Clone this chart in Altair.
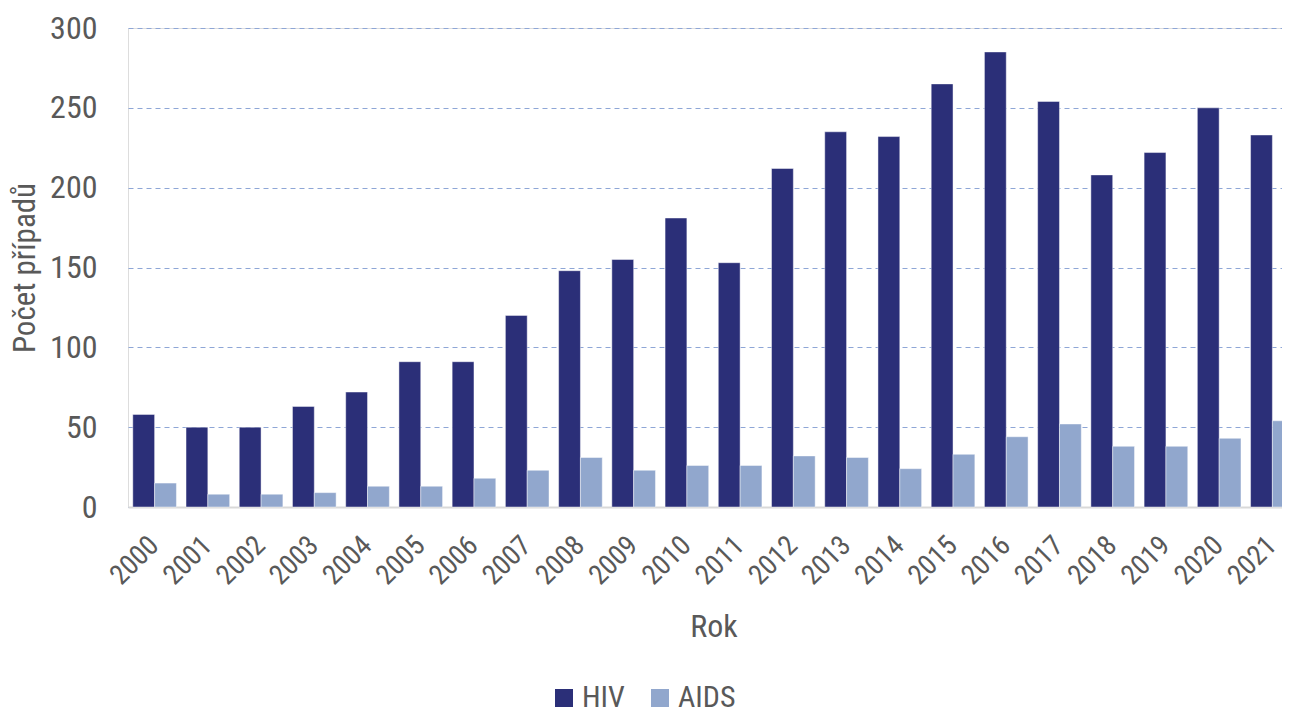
import altair as alt
import pandas as pd

years = [str(y) for y in range(2000, 2022)]
hiv = [58, 50, 50, 63, 72, 91, 91, 120, 148, 155, 181, 153, 212, 235, 232, 265, 285, 254, 208, 222, 250, 233]
aids = [15, 8, 8, 9, 13, 13, 18, 23, 31, 23, 26, 26, 32, 31, 24, 33, 44, 52, 38, 38, 43, 54]
series = ["HIV", "AIDS"]
colors = ["#2b2f78", "#91a7cd"]
y_ticks = [0, 50, 100, 150, 200, 250, 300]

rows = []
for i, yr in enumerate(years):
    rows.append({"Rok": yr, "series": "HIV", "value": hiv[i]})
    rows.append({"Rok": yr, "series": "AIDS", "value": aids[i]})
df = pd.DataFrame(rows)

FONT = "Liberation Sans Narrow, Roboto Condensed, Arial Narrow, sans-serif"
TXT = "#595959"

chart = alt.Chart(df).mark_bar(
    stroke="#ffffff", strokeOpacity=0.45, strokeWidth=1
).encode(
    x=alt.X("Rok:N", sort=years,
            scale=alt.Scale(paddingInner=0.18, paddingOuter=0.09),
            axis=alt.Axis(title="Rok", labelAngle=-45, labelAlign="right", labelBaseline="middle",
                          labelPadding=34, labelFontSize=28, labelColor=TXT, labelFont=FONT,
                          titleFontSize=32, titleColor=TXT, titleFont=FONT, titleFontWeight="normal",
                          titlePadding=22, ticks=False, domainColor="#d9d9d9", domainWidth=2,
                          grid=False)),
    xOffset=alt.XOffset("series:N", sort=series, scale=alt.Scale(paddingInner=0, paddingOuter=0)),
    y=alt.Y("value:Q", scale=alt.Scale(domain=[0, 300], nice=False),
            axis=alt.Axis(title="Počet případů", values=y_ticks, labelFontSize=32, labelColor=TXT,
                          labelFont=FONT, labelPadding=31, ticks=False, domain=False,
                          titleFontSize=31, titleColor=TXT, titleFont=FONT, titleFontWeight="normal",
                          titlePadding=8, gridColor="#8ea6d6", gridDash=[5, 4], gridWidth=1)),
    color=alt.Color("series:N", sort=series,
                    scale=alt.Scale(domain=series, range=colors),
                    legend=alt.Legend(title=None, orient="none", direction="horizontal",
                                      legendX=421, legendY=655, padding=0, symbolType="square",
                                      symbolSize=324, symbolStrokeWidth=0, labelFontSize=30,
                                      labelColor=TXT, labelFont=FONT, labelOffset=3,
                                      columnPadding=20)),
).properties(
    width=1171, height=479,
    autosize=alt.AutoSizeParams(type="none"),
    padding={"left": 120, "top": 20, "right": -17, "bottom": 205},
).configure_view(
    fill="#f2f2f2", stroke=None
).configure(background="#ffffff")

chart.save("out.html", embed_options={"renderer": "svg", "actions": False})
